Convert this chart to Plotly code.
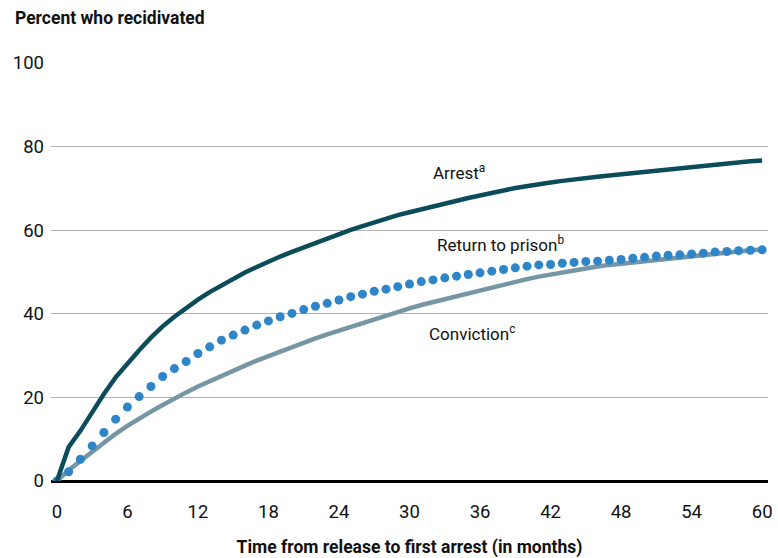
import plotly.graph_objects as go

months = list(range(0, 61))

arrest = [0, 8.1, 12.0, 16.5, 20.8, 24.8, 28.2, 31.3, 34.3, 37.0, 39.3,
          41.5, 43.4, 45.2, 46.8, 48.4, 49.9, 51.2, 52.5, 53.7, 54.8,
          55.9, 57.0, 58.1, 59.2, 60.1, 61.0, 61.9, 62.8, 63.6, 64.3,
          65.0, 65.8, 66.4, 67.1, 67.7, 68.3, 69.0, 69.5, 70.1, 70.6,
          71.0, 71.4, 71.8, 72.2, 72.5, 72.8, 73.1, 73.4, 73.7, 74.0,
          74.3, 74.6, 74.9, 75.2, 75.5, 75.8, 76.0, 76.3, 76.5, 76.7]

prison = [0, 2.2, 5.2, 8.4, 11.6, 14.8, 17.7, 20.2, 22.6, 25.0, 26.9,
          28.6, 30.5, 32.1, 33.7, 34.9, 36.1, 37.3, 38.3, 39.3, 40.1,
          41.0, 41.8, 42.5, 43.3, 44.1, 44.7, 45.4, 45.9, 46.5, 47.1,
          47.7, 48.1, 48.6, 49.0, 49.4, 49.8, 50.2, 50.6, 51.0, 51.4,
          51.7, 51.8, 52.1, 52.3, 52.5, 52.6, 52.8, 53.0, 53.3, 53.5,
          53.8, 54.0, 54.1, 54.3, 54.5, 54.8, 54.9, 55.1, 55.2, 55.3]

conviction = [0, 2.6, 4.8, 7.0, 9.3, 11.3, 13.2, 15.0, 16.6, 18.2, 19.8,
              21.2, 22.6, 23.9, 25.2, 26.4, 27.6, 28.8, 29.9, 31.0, 32.1,
              33.1, 34.1, 35.1, 36.0, 36.9, 37.9, 38.8, 39.6, 40.4, 41.3,
              42.1, 42.8, 43.5, 44.3, 45.0, 45.7, 46.4, 47.0, 47.6, 48.3,
              48.9, 49.4, 50.0, 50.4, 50.9, 51.3, 51.7, 52.0, 52.3, 52.6,
              53.0, 53.3, 53.6, 53.9, 54.2, 54.5, 54.8, 55.0, 55.2, 55.4]

x_ticks = list(range(0, 61, 6))
y_ticks = [0, 20, 40, 60, 80, 100]

FONT = "Roboto, Liberation Sans, sans-serif"
TXT = "#111111"

fig = go.Figure()
fig.add_trace(go.Scatter(x=months, y=conviction, mode="lines",
                         line=dict(color="#7596a5", width=4.5),
                         hoverinfo="skip", showlegend=False))
fig.add_trace(go.Scatter(x=months, y=prison, mode="markers",
                         marker=dict(color="#2e86c9", size=9, line=dict(width=0)),
                         hoverinfo="skip", showlegend=False))
fig.add_trace(go.Scatter(x=months, y=arrest, mode="lines",
                         line=dict(color="#0b4c5b", width=4.5),
                         hoverinfo="skip", showlegend=False))

ann_font = dict(family=FONT, size=17, color=TXT)
fig.add_annotation(x=31.8, y=74.0, text="Arrest<sup>a</sup>", showarrow=False,
                   xanchor="left", yanchor="middle", font=ann_font)
fig.add_annotation(x=32.2, y=56.8, text="Return to prison<sup>b</sup>", showarrow=False,
                   xanchor="left", yanchor="middle", font=ann_font)
fig.add_annotation(x=31.5, y=35.4, text="Conviction<sup>c</sup>", showarrow=False,
                   xanchor="left", yanchor="middle", font=ann_font)

fig.add_annotation(xref="paper", yref="paper", x=-38/717, y=1.0,
                   yshift=45, text="<b>Percent who recidivated</b>",
                   showarrow=False, xanchor="left", yanchor="middle",
                   font=dict(family=FONT, size=17.5, color=TXT))

fig.update_layout(
    width=778, height=558,
    margin=dict(l=51, r=10, t=63, b=77, autoexpand=False),
    paper_bgcolor="white", plot_bgcolor="white",
    font=dict(family=FONT, size=18, color=TXT),
    xaxis=dict(range=[-0.5, 60.5], tickvals=x_ticks, showgrid=False,
               zeroline=False, showline=False, ticks="", automargin=False,
               ticklabelstandoff=17,
               tickfont=dict(family=FONT, size=18.5, color=TXT),
               title=dict(text="<b>Time from release to first arrest (in months)</b>",
                          font=dict(family=FONT, size=17.5, color=TXT),
                          standoff=20)),
    yaxis=dict(range=[0, 100], tickvals=y_ticks, showgrid=True,
               gridcolor="#b3b3b3", gridwidth=1.2, automargin=False,
               zeroline=True, zerolinecolor="#000000", zerolinewidth=2.5,
               showline=False, ticks="", ticklabelstandoff=6,
               tickfont=dict(family=FONT, size=18.5, color=TXT)),
)

fig.write_html("out.html", config={"displayModeBar": False},
               post_script="document.body.style.margin='0';document.body.style.overflow='hidden';")
